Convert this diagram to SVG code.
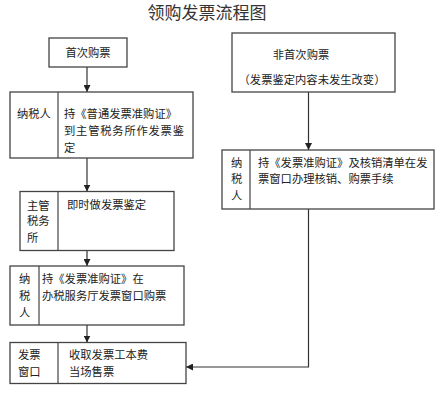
<svg xmlns="http://www.w3.org/2000/svg" width="444" height="400" viewBox="0 0 444 400">
<defs>
<marker id="arr" viewBox="0 0 8 8" refX="8" refY="4" markerWidth="7" markerHeight="7" markerUnits="userSpaceOnUse" orient="auto">
<path d="M0,0 L8,4 L0,8 z" fill="#222"/>
</marker>
<style>
.box{fill:#fff;stroke:#444;stroke-width:1.3}
.div{stroke:#444;stroke-width:1.2}
.t{font-family:"Noto Sans CJK SC","Liberation Sans",sans-serif;font-size:11.3px;fill:#222}
.title{font-family:"Noto Sans CJK SC","Liberation Sans",sans-serif;font-size:17px;fill:#333}
.c{fill:none;stroke:#333;stroke-width:1.2}
</style>
</defs>
<rect width="444" height="400" fill="#fff"/>
<text class="title" x="207" y="19" text-anchor="middle">领购发票流程图</text>

<g id="connectors">
<line class="c" x1="87" y1="67" x2="87" y2="92" marker-end="url(#arr)"/>
<line class="c" x1="87" y1="158" x2="87" y2="191.5" marker-end="url(#arr)"/>
<line class="c" x1="87" y1="251" x2="87" y2="266" marker-end="url(#arr)"/>
<line class="c" x1="87" y1="325" x2="87" y2="342.5" marker-end="url(#arr)"/>
<line class="c" x1="308.5" y1="92" x2="308.5" y2="150" marker-end="url(#arr)"/>
<polyline class="c" points="308.5,209 308.5,367 186,367" marker-end="url(#arr)"/>
</g>

<g id="first">
<rect class="box" x="49" y="38" width="78" height="29"/>
<text class="t" x="88" y="57" text-anchor="middle">首次购票</text>
</g>

<g id="taxpayer1">
<rect class="box" x="10" y="92" width="183" height="66"/>
<line class="div" x1="58" y1="92" x2="58" y2="158"/>
<text class="t" x="17" y="118">纳税人</text>
<text class="t" x="64" y="118">持《普通发票准购证》</text>
<text class="t" x="64" y="135" textLength="120" lengthAdjust="spacing">到主管税务所作发票鉴</text>
<text class="t" x="64" y="152">定</text>
</g>

<g id="taxoffice">
<rect class="box" x="20" y="191.5" width="154" height="59"/>
<line class="div" x1="58" y1="191.5" x2="58" y2="250.5"/>
<text class="t" x="27" y="210">主管</text>
<text class="t" x="27" y="225">税务</text>
<text class="t" x="27" y="242">所</text>
<text class="t" x="67" y="209">即时做发票鉴定</text>
</g>

<g id="taxpayer2">
<rect class="box" x="10" y="266" width="174" height="59"/>
<line class="div" x1="39" y1="266" x2="39" y2="325"/>
<text class="t" x="19" y="283">纳</text>
<text class="t" x="19" y="300">税</text>
<text class="t" x="19" y="317">人</text>
<text class="t" x="42" y="283">持《发票准购证》在</text>
<text class="t" x="42" y="300">办税服务厅发票窗口购票</text>
</g>

<g id="window">
<rect class="box" x="10" y="342.5" width="176" height="41"/>
<line class="div" x1="58" y1="342.5" x2="58" y2="383.5"/>
<text class="t" x="18" y="359">发票</text>
<text class="t" x="18" y="376">窗口</text>
<text class="t" x="69" y="359">收取发票工本费</text>
<text class="t" x="69" y="376">当场售票</text>
</g>

<g id="nonfirst">
<rect class="box" x="232" y="33" width="163" height="59"/>
<text class="t" x="301" y="59" text-anchor="middle">非首次购票</text>
<text class="t" x="312" y="84" text-anchor="middle">（发票鉴定内容未发生改变）</text>
</g>

<g id="taxpayer3">
<rect class="box" x="222" y="150" width="212" height="59"/>
<line class="div" x1="250" y1="150" x2="250" y2="209"/>
<text class="t" x="231" y="167">纳</text>
<text class="t" x="231" y="183">税</text>
<text class="t" x="231" y="200">人</text>
<text class="t" x="258" y="167">持《发票准购证》及核销清单在发</text>
<text class="t" x="258" y="183">票窗口办理核销、购票手续</text>
</g>
</svg>
